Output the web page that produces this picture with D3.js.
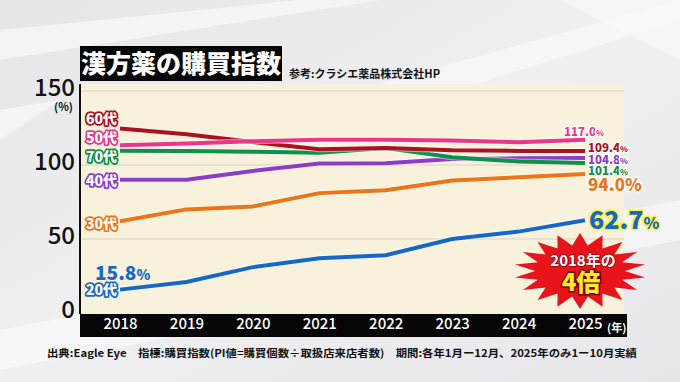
<!DOCTYPE html>
<html>
<head>
<meta charset="utf-8">
<script src="https://cdn.jsdelivr.net/npm/d3@7"></script>
<style>
  body { margin:0; padding:0; background:#ececef; }
  svg { display:block; }
  text { font-family:"Noto Sans CJK JP","Noto Sans",sans-serif; }
</style>
</head>
<body>
<svg id="chart" width="680" height="382"></svg>
<script>
// data
var years = ["2018","2019","2020","2021","2022","2023","2024","2025"];
var yTicks = [0, 50, 100, 150];
var ages = ["60代","50代","70代","40代","30代","20代"];
var colors = ["#b0101e","#e8378c","#109048","#8b3cc8","#ee7418","#1767c6"];
var s60 = [124.6, 120.8, 115.5, 110.7, 111.5, 110.0, 109.5, 109.4];
var s50 = [113.4, 114.5, 116.0, 117.0, 117.0, 116.6, 115.3, 117.0];
var s70 = [109.6, 109.5, 109.0, 108.2, 111.4, 105.2, 102.4, 101.4];
var s40 = [90.0, 90.0, 96.0, 101.0, 101.2, 104.0, 104.5, 104.8];
var s30 = [62.0, 70.0, 72.0, 81.0, 83.0, 89.5, 91.7, 94.0];
var s20 = [15.8, 21.0, 31.0, 37.0, 39.0, 50.0, 55.0, 62.7];
var endLabels = ["109.4","117.0","101.4","104.8","94.0","62.7"];

var series = [s60, s50, s70, s40, s30, s20];

var svg = d3.select("#chart");

// background with light diagonal streaks
var defs = svg.append("defs");
var bg = defs.append("linearGradient").attr("id","bg").attr("x1","0").attr("y1","0").attr("x2","1").attr("y2","1");
bg.append("stop").attr("offset","0").attr("stop-color","#e6e6ea");
bg.append("stop").attr("offset","0.5").attr("stop-color","#f0f0f2");
bg.append("stop").attr("offset","1").attr("stop-color","#e7e7eb");
svg.append("rect").attr("width",680).attr("height",382).attr("fill","url(#bg)");
var streaks = [
  "M0,30 L300,0 L380,0 L0,60 Z",
  "M250,120 L680,0 L680,20 L330,130 Z",
  "M0,330 L680,200 L680,240 L0,370 Z",
  "M560,0 L680,0 L680,60 Z",
  "M0,110 L60,100 L0,140 Z"
];
svg.selectAll("path.streak").data(streaks).enter().append("path")
  .attr("class","streak").attr("d", function(d){ return d; })
  .attr("fill","#fafafb").attr("opacity",0.7);

var plotL = 81, plotR = 624, plotT = 84, plotB = 314;

var x = d3.scalePoint().domain(years).range([120, 585]);
var y = d3.scaleLinear().domain([0,150]).range([313, 91]);

// plot background
svg.append("rect").attr("x",plotL).attr("y",plotT).attr("width",plotR-plotL).attr("height",plotB-plotT)
  .attr("fill","#f8f1dc");

// grid
svg.selectAll("line.grid").data(yTicks.filter(function(d){return d>0;})).enter().append("line")
  .attr("class","grid")
  .attr("x1",plotL).attr("x2",plotR)
  .attr("y1",function(d){return y(d);}).attr("y2",function(d){return y(d);})
  .attr("stroke","#dad3c0").attr("stroke-width",1);

// y axis line
svg.append("line").attr("x1",80).attr("x2",80).attr("y1",plotT).attr("y2",plotB)
  .attr("stroke","#111").attr("stroke-width",2);

// y tick labels
var yAxis = d3.axisLeft(y).tickValues(yTicks).tickSize(0).tickPadding(0);
var ya = svg.append("g").attr("transform","translate(75,-3)").call(yAxis);
ya.select(".domain").remove();
ya.selectAll("text").attr("font-size",24).attr("font-weight",500).attr("fill","#111")
  .attr("font-family","Roboto,'Liberation Sans',sans-serif");
svg.append("text").attr("x",73).attr("y",111).attr("text-anchor","end")
  .attr("font-family","'Liberation Sans',Arial,sans-serif")
  .attr("font-size",11).attr("font-weight",700).attr("fill","#111").text("(%)");

// x axis bar
svg.append("rect").attr("x",80).attr("y",314).attr("width",547).attr("height",23).attr("fill","#050505");
var xAxis = d3.axisBottom(x).tickSize(0).tickPadding(0);
var xa = svg.append("g").attr("transform","translate(0,318)").call(xAxis);
xa.select(".domain").remove();
xa.selectAll("text").attr("font-size",15).attr("font-weight",500).attr("fill","#fff")
  .attr("font-family","'Noto Sans CJK JP',sans-serif").attr("dy","0.75em");
svg.append("text").attr("x",607).attr("y",332).attr("font-size",11).attr("font-weight",700)
  .attr("fill","#fff").text("(年)");

// lines
var line = d3.line().x(function(d,i){return x(years[i]);}).y(function(d){return y(d);});
var order = [4,5,3,2,0,1];
order.forEach(function(k){
  svg.append("path").datum(series[k]).attr("d",line)
    .attr("fill","none").attr("stroke","#fff").attr("stroke-width",6).attr("stroke-opacity",0.5);
  svg.append("path").datum(series[k]).attr("d",line)
    .attr("fill","none").attr("stroke",colors[k]).attr("stroke-width",4);
});

// left age labels (white text, coloured outline)
var ageY = [119, 138, 157, 181, 224, 290];
ages.forEach(function(a,i){
  svg.append("text").attr("x",117).attr("y",ageY[i]).attr("dy","0.36em")
    .attr("text-anchor","end").attr("font-size",14).attr("font-weight",900).text(a)
    .attr("fill","#fff").attr("stroke",colors[i]).attr("stroke-width",3.5)
    .attr("paint-order","stroke").attr("stroke-linejoin","round");
});

// end value labels
function valueLabel(txt, px, py, size, color, outline, pctSize, fam){
  var t = svg.append("text").attr("x",px).attr("y",py).attr("font-weight",900)
    .attr("fill",color).attr("stroke",outline).attr("stroke-width",outline=="none"?0:3)
    .attr("paint-order","stroke").attr("stroke-linejoin","round")
    .attr("font-family",fam || "'Noto Sans CJK JP',sans-serif");
  t.append("tspan").attr("font-size",size).text(txt);
  t.append("tspan").attr("font-size",pctSize).text("%");
}
var small = "'Liberation Sans',Arial,sans-serif";
valueLabel(endLabels[1], 564, 136, 11.5, colors[1], "#fff", 8, small);
valueLabel(endLabels[0], 588, 152, 11.5, colors[0], "#fff", 8, small);
valueLabel(endLabels[3], 588, 163.5, 11.5, colors[3], "#fff", 8, small);
valueLabel(endLabels[2], 588, 175, 11.5, colors[2], "#fff", 8, small);
valueLabel(endLabels[4], 588, 191, 17, colors[4], "#fff", 17);
valueLabel(endLabels[5], 589, 229, 25, colors[5], "#fbf23a", 16);
valueLabel("15.8", 95, 280, 19, colors[5], "none", 14);

// starburst
var cx = 580, cy = 271, spikes = 18;
var pts = d3.range(spikes*2).map(function(i){
  var ang = i*Math.PI/spikes - Math.PI/2;
  var r = (i%2==0) ? 1 : 0.68;
  return [cx + Math.cos(ang)*66*r, cy + Math.sin(ang)*38*r];
});
svg.append("polygon").attr("points", pts.map(function(p){return p.join(",");}).join(" "))
  .attr("fill","#e8141c");
svg.append("text").attr("x",583).attr("y",266).attr("text-anchor","middle")
  .attr("font-size",15).attr("font-weight",700).attr("fill","#fff")
  .attr("stroke","#9a0008").attr("stroke-width",1.5).attr("paint-order","stroke").text("2018年の");
svg.append("text").attr("x",581).attr("y",291).attr("text-anchor","middle")
  .attr("font-size",24).attr("font-weight",900).attr("fill","#ffee22")
  .attr("stroke","#7a0006").attr("stroke-width",3).attr("paint-order","stroke").text("4倍");

// title
svg.append("rect").attr("x",80).attr("y",46).attr("width",202).attr("height",35).attr("fill","#050505");
svg.append("text").attr("x",181).attr("y",73).attr("text-anchor","middle")
  .attr("font-size",25).attr("font-weight",900).attr("fill","#fff").text("漢方薬の購買指数");
svg.append("text").attr("x",289).attr("y",78).attr("font-size",11).attr("font-weight",700)
  .attr("fill","#111").text("参考:クラシエ薬品株式会社HP");

// footer
svg.append("text").attr("x",47).attr("y",357).attr("font-size",10.5).attr("font-weight",700)
  .attr("fill","#111").attr("textLength",590).attr("lengthAdjust","spacingAndGlyphs")
  .text("出典:Eagle Eye　指標:購買指数(PI値=購買個数÷取扱店来店者数)　期間:各年1月ー12月、2025年のみ1ー10月実績");
</script>
</body>
</html>
